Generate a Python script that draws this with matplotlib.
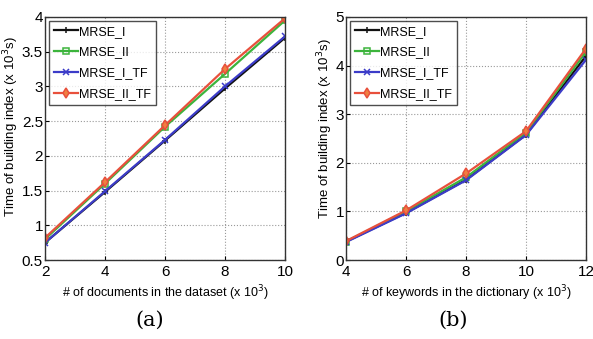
import matplotlib
matplotlib.use('Agg')
import matplotlib.pyplot as plt

plt.rcParams['font.family'] = ['Liberation Sans', 'DejaVu Sans']

# (a) documents in dataset (x 10^3)
docs = [2, 4, 6, 8, 10]
a_mrse_i = [0.75, 1.48, 2.22, 2.97, 3.70]
a_mrse_ii = [0.80, 1.60, 2.42, 3.18, 3.95]
a_mrse_i_tf = [0.75, 1.49, 2.23, 3.00, 3.72]
a_mrse_ii_tf = [0.82, 1.62, 2.44, 3.25, 3.98]

# (b) keywords in dictionary (x 10^3)
kws = [4, 6, 8, 10, 12]
b_mrse_i = [0.38, 0.97, 1.65, 2.58, 4.20]
b_mrse_ii = [0.38, 1.00, 1.70, 2.62, 4.28]
b_mrse_i_tf = [0.37, 0.96, 1.64, 2.57, 4.12]
b_mrse_ii_tf = [0.39, 1.02, 1.78, 2.65, 4.35]

names = ['MRSE_I', 'MRSE_II', 'MRSE_I_TF', 'MRSE_II_TF']
colors = ['#111111', '#3cb43c', '#3c3cc8', '#e8503c']
markers = ['+', 's', 'x', 'd']

fig = plt.figure(figsize=(5.93, 3.39), dpi=100)
ax1 = fig.add_axes([0.0759, 0.233, 0.4047, 0.717])
ax2 = fig.add_axes([0.5835, 0.233, 0.4047, 0.717])

def draw(ax, x, series, ylim, yticks, yticklabels, xlabel, ylab_x, ylab_y):
    for ys, name, c, m in zip(series, names, colors, markers):
        face = 'none' if m == 's' else '#f08040' if m == 'd' else c
        ax.plot(x, ys, color=c, marker=m, ms=5, lw=1.6, mfc=face, mec=c, mew=1.1, label=name)
    ax.set_xlim(x[0], x[-1])
    ax.set_ylim(*ylim)
    ax.set_xticks(x)
    ax.set_yticks(yticks)
    ax.set_yticklabels(yticklabels)
    ax.grid(True, ls=':', color='#999999', lw=0.8)
    ax.tick_params(direction='in', labelsize=11, length=3)
    ax.tick_params(axis='x', pad=3.5)
    ax.tick_params(axis='y', pad=1.5)
    for s in ax.spines.values():
        s.set_color('#333333')
        s.set_linewidth(1.0)
    ax.set_xlabel(xlabel, fontsize=9, labelpad=3)
    ax.set_ylabel('Time of building index (x 10$^3$s)', fontsize=9.5)
    ax.yaxis.set_label_coords(ylab_x, ylab_y)
    leg = ax.legend(loc='upper left', fontsize=9, frameon=True, fancybox=False,
                    handlelength=1.9, handletextpad=0.1, borderpad=0.4,
                    labelspacing=0.7, borderaxespad=0.3)
    leg.get_frame().set_edgecolor('#222222')
    leg.get_frame().set_linewidth(1.0)

draw(ax1, docs, [a_mrse_i, a_mrse_ii, a_mrse_i_tf, a_mrse_ii_tf],
     (0.5, 4), [0.5, 1, 1.5, 2, 2.5, 3, 3.5, 4],
     ['0.5', '1', '1.5', '2', '2.5', '3', '3.5', '4'],
     '# of documents in the dataset (x 10$^3$)', -0.1, 0.55)
draw(ax2, kws, [b_mrse_i, b_mrse_ii, b_mrse_i_tf, b_mrse_ii_tf],
     (0, 5), [0, 1, 2, 3, 4, 5], ['0', '1', '2', '3', '4', '5'],
     '# of keywords in the dictionary (x 10$^3$)', -0.045, 0.54)

fig.text(0.253, 0.056, '(a)', fontsize=15, family='DejaVu Serif', ha='center', va='center')
fig.text(0.764, 0.056, '(b)', fontsize=15, family='DejaVu Serif', ha='center', va='center')

fig.savefig('out.png', dpi=100)
